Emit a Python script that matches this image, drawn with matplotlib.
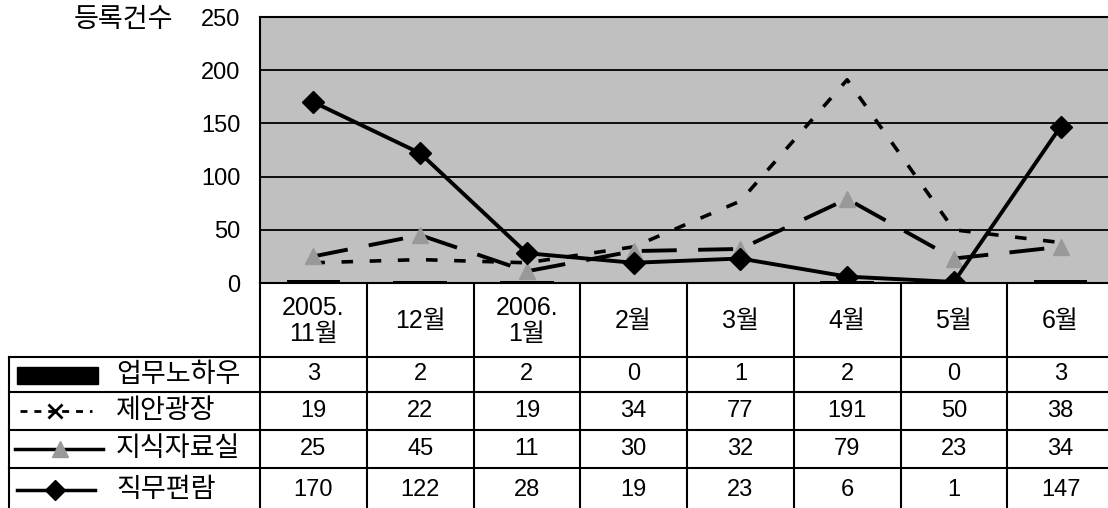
import matplotlib
matplotlib.use("Agg")
import matplotlib.pyplot as plt
from matplotlib.lines import Line2D
from matplotlib.patches import Rectangle

plt.rcParams['font.family'] = ['Liberation Sans', 'Noto Sans CJK KR', 'DejaVu Sans']

# 월별 등록건수
months = ["2005.\n11월", "12월", "2006.\n1월", "2월", "3월", "4월", "5월", "6월"]
knowhow = [3, 2, 2, 0, 1, 2, 0, 3]          # 업무노하우
proposal = [19, 22, 19, 34, 77, 191, 50, 38]  # 제안광장
library = [25, 45, 11, 30, 32, 79, 23, 34]    # 지식자료실
manual = [170, 122, 28, 19, 23, 6, 1, 147]    # 직무편람
series_names = ["업무노하우", "제안광장", "지식자료실", "직무편람"]
yticks = [0, 50, 100, 150, 200, 250]

W, H = 1108, 508
fs = 17      # digits
fs_ko = 19.5  # hangul-only labels

fig = plt.figure(figsize=(W / 100, H / 100), dpi=100)

# plot area in pixel units
px_left, px_right, px_top, px_bot = 260, 1114, 17, 283
ax = fig.add_axes([px_left / W, 1 - px_bot / H, (px_right - px_left) / W, (px_bot - px_top) / H])
ax.set_facecolor('#c0c0c0')
x = list(range(len(months)))

ax.bar(x, knowhow, width=0.5, color='black', zorder=2)
ax.plot(x, proposal, color='black', lw=2.6, dashes=(3.2, 4.6), zorder=3)
ax.plot(x, library, color='black', lw=2.8, dashes=(9, 5.5),
        marker='^', markersize=12, markerfacecolor='#999999', markeredgecolor='#999999', zorder=4)
ax.plot(x, manual, color='black', lw=2.8, marker='D', markersize=11,
        markerfacecolor='black', markeredgecolor='black', zorder=5)

ax.set_xlim(-0.5, len(months) - 0.5)
ax.set_ylim(0, 250)
ax.set_yticks(yticks)
ax.set_yticklabels([str(v) for v in yticks], fontsize=fs)
ax.tick_params(axis='y', length=0, pad=14)
ax.set_xticks([])
ax.yaxis.grid(True, color='black', lw=1.3)
ax.set_axisbelow(True)
for s in ax.spines.values():
    s.set_color('black')
    s.set_linewidth(1.5)

fig.text(173 / W, 1 - 20 / H, "등록건수", ha='right', va='center', fontsize=fs_ko)

# data table below the chart, drawn in pixel coordinates
tx = fig.add_axes([0, 0, 1, 1], zorder=-1)
tx.set_xlim(0, W)
tx.set_ylim(H, 0)
tx.axis('off')

col_w = (px_right - px_left) / len(months)
col_edges = [px_left + col_w * i for i in range(len(months) + 1)]
row_edges = [px_bot, 357, 392, 430, 468, 512]
tbl_left = 9
lw = 1.5

for y in row_edges[1:5]:
    tx.plot([tbl_left, W + 10], [y, y], color='black', lw=lw)
tx.plot([tbl_left, tbl_left], [row_edges[1], H + 5], color='black', lw=lw)
for cx in col_edges:
    tx.plot([cx, cx], [px_bot, H + 5], color='black', lw=lw)

for i, m in enumerate(months):
    cx = (col_edges[i] + col_edges[i + 1]) / 2
    tx.text(cx, (row_edges[0] + row_edges[1]) / 2 + 1, m, ha='center', va='center',
            fontsize=18, linespacing=1.1)

rows = [knowhow, proposal, library, manual]
for r, vals in enumerate(rows):
    cy = (row_edges[r + 1] + row_edges[r + 2]) / 2
    tx.text(116, cy, series_names[r], ha='left', va='center', fontsize=fs_ko)
    for i, v in enumerate(vals):
        cx = (col_edges[i] + col_edges[i + 1]) / 2
        tx.text(cx, cy, str(v), ha='center', va='center', fontsize=fs)

# legend keys
ky = [(row_edges[r + 1] + row_edges[r + 2]) / 2 for r in range(4)]
tx.add_patch(Rectangle((17, ky[0] - 8), 81, 17, color='black'))
tx.add_line(Line2D([20, 92], [ky[1], ky[1]], color='black', lw=2, dashes=(2.5, 2.5)))
tx.plot([55], [ky[1]], marker='x', markersize=10, color='black', mew=2)
tx.add_line(Line2D([15, 103], [ky[2], ky[2]], color='black', lw=2.5))
tx.plot([60], [ky[2]], marker='^', markersize=12, color='#999999')
tx.add_line(Line2D([17, 95], [ky[3], ky[3]], color='black', lw=2.5))
tx.plot([55], [ky[3]], marker='D', markersize=10, color='black')

fig.savefig("out.png", dpi=100, facecolor='white')
